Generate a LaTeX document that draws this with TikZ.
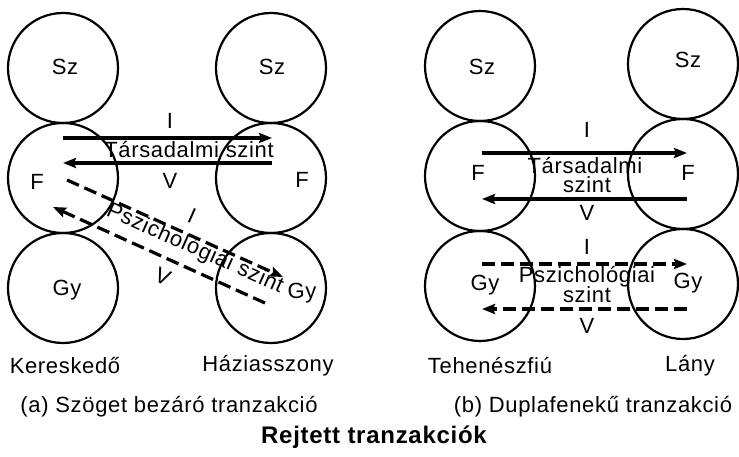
\documentclass[tikz,border=0pt]{standalone}
\usepackage{fontspec}
\setmainfont[LetterSpace=3]{Liberation Sans}
\usetikzlibrary{arrows.meta}
\begin{document}
\begin{tikzpicture}[x=1pt,y=-1pt,
  circ/.style={circle,draw,line width=2.2pt,minimum size=110pt,inner sep=0pt},
  lbl/.style={font=\fontsize{22}{24}\selectfont,inner sep=0pt},
  captxt/.style={font=\fontsize{22}{24}\selectfont,inner sep=0pt},
  ttl/.style={font=\fontsize{24}{26}\selectfont\bfseries,inner sep=0pt},
  solidarr/.style={line width=3.2pt,-{Stealth[length=13pt,width=10pt,inset=2pt]}},
  dasharr/.style={solidarr,dash pattern=on 13pt off 6pt},
]
\fill[white] (0,0) rectangle (739,457);
\useasboundingbox (0,0) rectangle (739,457);

% ---------- (a) ----------
\node[circ] (aSzL) at (63,68) {};
\node[circ] (aFL)  at (63,178) {};
\node[circ] (aGyL) at (63,288) {};
\node[circ] (aSzR) at (271,68) {};
\node[circ] (aFR)  at (271,178) {};
\node[circ] (aGyR) at (271,288) {};

\node[lbl] (taSzL) at (65,67) {Sz};
\node[lbl] (taSzR) at (272,67) {Sz};
\node[lbl] (taFL)  at (37,182) {F};
\node[lbl] (taFR)  at (302,180) {F};
\node[lbl] (taGyL) at (67,290) {Gy};
\node[lbl] (taGyR) at (302,293) {Gy};

\coordinate (aIs) at (63,138);  \coordinate (aIe) at (272,138);
\coordinate (aVs) at (272,163); \coordinate (aVe) at (63,163);
\draw[solidarr] (aIs) -- (aIe);
\draw[solidarr] (aVs) -- (aVe);
\node[lbl] (aI1) at (170,121) {I};
\node[lbl] (aTs) at (189,150) {Társadalmi szint};
\node[lbl] (aV1) at (170,181) {V};

\coordinate (aPIs) at (67,180);  \coordinate (aPIe) at (283,277);
\coordinate (aPVs) at (265,303); \coordinate (aPVe) at (53,207);
\draw[dasharr] (aPIs) -- (aPIe);
\draw[dasharr] (aPVs) -- (aPVe);
\node[lbl,rotate=-24] (aI2) at (192,216) {I};
\node[lbl,rotate=-24] (aPs) at (195,249) {Pszichológiai szint};
\node[lbl,rotate=-24] (aV2) at (163,277) {V};

\node[captxt] (aK) at (65,366) {Kereskedő};
\node[captxt] (aH) at (268,366) {Háziasszony};
\node[captxt] (aCap) at (169,407) {(a) Szöget bezáró tranzakció};

% ---------- (b) ----------
\node[circ] (bSzL) at (480,66) {};
\node[circ] (bFL)  at (480,176) {};
\node[circ] (bGyL) at (480,286) {};
\node[circ] (bSzR) at (683,64) {};
\node[circ] (bFR)  at (683,174) {};
\node[circ] (bGyR) at (683,284) {};

\node[lbl] (tbSzL) at (482,67) {Sz};
\node[lbl] (tbSzR) at (688,60) {Sz};
\node[lbl] (tbFL)  at (478,173) {F};
\node[lbl] (tbFR)  at (688,173) {F};
\node[lbl] (tbGyL) at (485,285) {Gy};
\node[lbl] (tbGyR) at (688,283) {Gy};

\coordinate (bIs) at (482,153); \coordinate (bIe) at (687,153);
\coordinate (bVs) at (687,199); \coordinate (bVe) at (482,199);
\draw[solidarr] (bIs) -- (bIe);
\draw[solidarr] (bVs) -- (bVe);
\node[lbl] (bI1) at (587,130) {I};
\node[lbl] (bT1) at (585,166) {Társadalmi};
\node[lbl] (bT2) at (587,185) {szint};
\node[lbl] (bV1) at (587,213) {V};

\coordinate (bPIs) at (482,264); \coordinate (bPIe) at (687,264);
\coordinate (bPVs) at (687,309); \coordinate (bPVe) at (482,309);
\draw[dasharr] (bPIs) -- (bPIe);
\draw[dasharr] (bPVs) -- (bPVe);
\node[lbl] (bI2) at (587,247) {I};
\node[lbl] (bP1) at (587,277) {Pszichológiai};
\node[lbl] (bP2) at (587,295) {szint};
\node[lbl] (bV2) at (587,326) {V};

\node[captxt] (bT) at (490,366) {Tehenészfiú};
\node[captxt] (bL) at (690,366) {Lány};
\node[captxt] (bCap) at (593,407) {(b) Duplafenekű tranzakció};

\node[ttl] (title) at (374,437) {Rejtett tranzakciók};
\end{tikzpicture}
\end{document}
